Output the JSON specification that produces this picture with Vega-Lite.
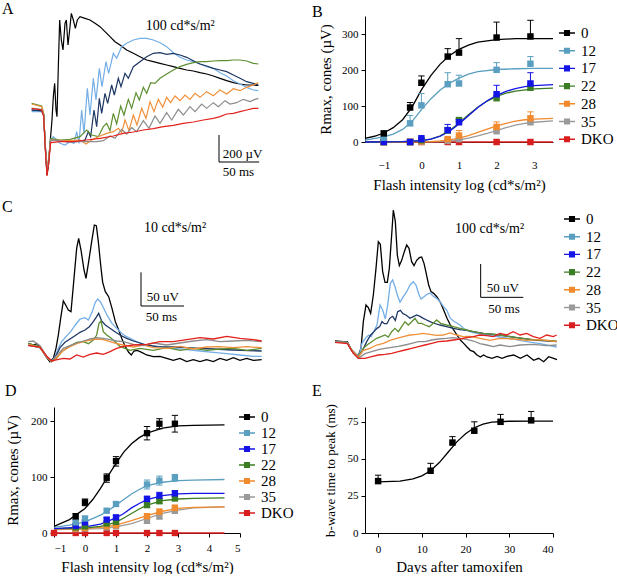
{
  "$schema": "https://vega.github.io/schema/vega-lite/v6.json",
  "background": "white",
  "padding": {"left": 2, "top": 0, "right": 0, "bottom": 0},
  "config": {
    "font": "Liberation Serif",
    "view": {"stroke": null},
    "axis": {"labelFont": "Liberation Serif", "titleFont": "Liberation Serif", "labelFontSize": 11, "titleFontSize": 15, "titleFontWeight": "normal", "labelColor": "black", "titleColor": "black", "domainColor": "black", "tickColor": "black", "grid": false, "tickSize": 4},
    "legend": {"labelFont": "Liberation Serif", "labelFontSize": 15, "labelColor": "black"},
    "title": {"font": "Liberation Serif", "fontSize": 16, "fontWeight": "normal", "color": "black", "anchor": "start", "frame": "group", "offset": 0, "baseline": "alphabetic"}
  },
  "columns": 2,
  "bounds": "flush",
  "spacing": {"row": 54, "column": 125},
  "resolve": {"scale": {"color": "independent", "stroke": "independent"}, "legend": {"color": "independent", "stroke": "independent"}},
  "datasets": {
    "traceA": [
      {"g":"0","t":38,"v":0},{"g":"0","t":50,"v":-5},{"g":"0","t":52.4,"v":-37.5},{"g":"0","t":54.4,"v":-275},{"g":"0","t":56.4,"v":-487.5},{"g":"0","t":58.4,"v":-400},{"g":"0","t":60.4,"v":-225},{"g":"0","t":62.4,"v":-75},{"g":"0","t":64,"v":100},{"g":"0","t":65.6,"v":200},{"g":"0","t":67.2,"v":0},{"g":"0","t":68.4,"v":-50},{"g":"0","t":70,"v":325},{"g":"0","t":71.6,"v":675},{"g":"0","t":73.6,"v":525},{"g":"0","t":75.6,"v":450},{"g":"0","t":78,"v":650},{"g":"0","t":79.6,"v":675},{"g":"0","t":81.6,"v":487.5},{"g":"0","t":83.6,"v":600},{"g":"0","t":85.6,"v":725},{"g":"0","t":88,"v":675},{"g":"0","t":90.4,"v":612.5},{"g":"0","t":92.8,"v":675},{"g":"0","t":96,"v":700},{"g":"0","t":102,"v":687.5},{"g":"0","t":108,"v":675},{"g":"0","t":114,"v":650},{"g":"0","t":120,"v":625},{"g":"0","t":126,"v":587.5},{"g":"0","t":132,"v":550},{"g":"0","t":138,"v":512.5},{"g":"0","t":144,"v":487.5},{"g":"0","t":152,"v":450},{"g":"0","t":160,"v":425},{"g":"0","t":168,"v":400},{"g":"0","t":176,"v":375},{"g":"0","t":184,"v":362.5},{"g":"0","t":192,"v":350},{"g":"0","t":200,"v":337.5},{"g":"0","t":208,"v":325},{"g":"0","t":216,"v":312.5},{"g":"0","t":224,"v":300},{"g":"0","t":232,"v":292.5},{"g":"0","t":240,"v":280},{"g":"0","t":248,"v":270},{"g":"0","t":256,"v":255},{"g":"0","t":264,"v":237.5},{"g":"0","t":272,"v":220},{"g":"0","t":280,"v":205},{"g":"0","t":288,"v":195},{"g":"0","t":296,"v":187.5},{"g":"0","t":304,"v":187.5},{"g":"0","t":310,"v":185},
      {"g":"12","t":38,"v":-12.5},{"g":"12","t":50,"v":-12.5},{"g":"12","t":52.4,"v":-37.5},{"g":"12","t":54.4,"v":-275},{"g":"12","t":56.4,"v":-475},{"g":"12","t":58.4,"v":-375},{"g":"12","t":60.8,"v":-225},{"g":"12","t":64,"v":-200},{"g":"12","t":68,"v":-225},{"g":"12","t":72,"v":-250},{"g":"12","t":78,"v":-262.5},{"g":"12","t":84,"v":-237.5},{"g":"12","t":88.8,"v":-250},{"g":"12","t":92,"v":-162.5},{"g":"12","t":94.8,"v":-250},{"g":"12","t":98,"v":0},{"g":"12","t":100.8,"v":-175},{"g":"12","t":104.8,"v":162.5},{"g":"12","t":108,"v":-37.5},{"g":"12","t":112,"v":237.5},{"g":"12","t":115.2,"v":75},{"g":"12","t":119.2,"v":312.5},{"g":"12","t":122.4,"v":175},{"g":"12","t":127.2,"v":362.5},{"g":"12","t":130.4,"v":275},{"g":"12","t":136,"v":425},{"g":"12","t":140,"v":387.5},{"g":"12","t":146,"v":475},{"g":"12","t":152,"v":500},{"g":"12","t":160,"v":525},{"g":"12","t":168,"v":537.5},{"g":"12","t":176,"v":537.5},{"g":"12","t":184,"v":525},{"g":"12","t":192,"v":505},{"g":"12","t":200,"v":475},{"g":"12","t":208,"v":430},{"g":"12","t":216,"v":395},{"g":"12","t":224,"v":375},{"g":"12","t":232,"v":362.5},{"g":"12","t":240,"v":345},{"g":"12","t":248,"v":325},{"g":"12","t":256,"v":312.5},{"g":"12","t":264,"v":280},{"g":"12","t":272,"v":255},{"g":"12","t":280,"v":220},{"g":"12","t":288,"v":195},{"g":"12","t":296,"v":170},{"g":"12","t":304,"v":150},{"g":"12","t":310,"v":145},
      {"g":"17","t":38,"v":0},{"g":"17","t":50,"v":-7.5},{"g":"17","t":52.4,"v":-37.5},{"g":"17","t":54.4,"v":-275},{"g":"17","t":56.4,"v":-475},{"g":"17","t":58.4,"v":-375},{"g":"17","t":60.8,"v":-225},{"g":"17","t":68,"v":-225},{"g":"17","t":80,"v":-237.5},{"g":"17","t":92,"v":-237.5},{"g":"17","t":102,"v":-225},{"g":"17","t":106,"v":-162.5},{"g":"17","t":108.8,"v":-200},{"g":"17","t":112.8,"v":0},{"g":"17","t":116,"v":-125},{"g":"17","t":119.2,"v":87.5},{"g":"17","t":122,"v":-25},{"g":"17","t":126,"v":125},{"g":"17","t":129.2,"v":50},{"g":"17","t":134,"v":187.5},{"g":"17","t":137.2,"v":112.5},{"g":"17","t":142,"v":237.5},{"g":"17","t":145.2,"v":175},{"g":"17","t":150,"v":275},{"g":"17","t":154,"v":237.5},{"g":"17","t":160,"v":325},{"g":"17","t":168,"v":362.5},{"g":"17","t":176,"v":400},{"g":"17","t":184,"v":425},{"g":"17","t":192,"v":430},{"g":"17","t":200,"v":417.5},{"g":"17","t":208,"v":425},{"g":"17","t":216,"v":412.5},{"g":"17","t":224,"v":395},{"g":"17","t":232,"v":370},{"g":"17","t":240,"v":345},{"g":"17","t":248,"v":330},{"g":"17","t":256,"v":312.5},{"g":"17","t":264,"v":300},{"g":"17","t":272,"v":287.5},{"g":"17","t":280,"v":262.5},{"g":"17","t":288,"v":237.5},{"g":"17","t":296,"v":212.5},{"g":"17","t":304,"v":200},{"g":"17","t":310,"v":187.5},
      {"g":"22","t":38,"v":50},{"g":"22","t":50,"v":30},{"g":"22","t":52.4,"v":-25},{"g":"22","t":54.4,"v":-275},{"g":"22","t":56.4,"v":-462.5},{"g":"22","t":58.4,"v":-362.5},{"g":"22","t":60.8,"v":-212.5},{"g":"22","t":72,"v":-225},{"g":"22","t":84,"v":-220},{"g":"22","t":96,"v":-200},{"g":"22","t":104,"v":-150},{"g":"22","t":110,"v":-187.5},{"g":"22","t":118,"v":-200},{"g":"22","t":124,"v":-125},{"g":"22","t":128,"v":-100},{"g":"22","t":132,"v":-155},{"g":"22","t":136,"v":-25},{"g":"22","t":140,"v":-105},{"g":"22","t":144.8,"v":30},{"g":"22","t":148.8,"v":-37.5},{"g":"22","t":154,"v":80},{"g":"22","t":158,"v":12.5},{"g":"22","t":163.2,"v":130},{"g":"22","t":167.2,"v":75},{"g":"22","t":172,"v":170},{"g":"22","t":176,"v":125},{"g":"22","t":180.8,"v":205},{"g":"22","t":186,"v":200},{"g":"22","t":192,"v":237.5},{"g":"22","t":200,"v":270},{"g":"22","t":208,"v":300},{"g":"22","t":216,"v":325},{"g":"22","t":224,"v":342.5},{"g":"22","t":232,"v":355},{"g":"22","t":240,"v":362.5},{"g":"22","t":248,"v":362.5},{"g":"22","t":256,"v":367.5},{"g":"22","t":264,"v":370},{"g":"22","t":272,"v":370},{"g":"22","t":280,"v":375},{"g":"22","t":288,"v":375},{"g":"22","t":296,"v":367.5},{"g":"22","t":304,"v":350},{"g":"22","t":310,"v":345},
      {"g":"28","t":38,"v":45},{"g":"28","t":50,"v":25},{"g":"28","t":52.4,"v":-25},{"g":"28","t":54.4,"v":-275},{"g":"28","t":56.4,"v":-462.5},{"g":"28","t":58.4,"v":-362.5},{"g":"28","t":60.8,"v":-225},{"g":"28","t":80,"v":-230},{"g":"28","t":96,"v":-225},{"g":"28","t":103.2,"v":-255},{"g":"28","t":110,"v":-225},{"g":"28","t":120,"v":-195},{"g":"28","t":128,"v":-175},{"g":"28","t":136,"v":-162.5},{"g":"28","t":142,"v":-137.5},{"g":"28","t":146,"v":-170},{"g":"28","t":150,"v":-75},{"g":"28","t":154.8,"v":-155},{"g":"28","t":160,"v":-37.5},{"g":"28","t":164.4,"v":-112.5},{"g":"28","t":170,"v":12.5},{"g":"28","t":175.2,"v":-62.5},{"g":"28","t":180,"v":62.5},{"g":"28","t":184.8,"v":-12.5},{"g":"28","t":190,"v":80},{"g":"28","t":195.2,"v":20},{"g":"28","t":200,"v":95},{"g":"28","t":204.8,"v":55},{"g":"28","t":210,"v":105},{"g":"28","t":216,"v":70},{"g":"28","t":222,"v":112.5},{"g":"28","t":228,"v":80},{"g":"28","t":234,"v":125},{"g":"28","t":240,"v":95},{"g":"28","t":248,"v":137.5},{"g":"28","t":256,"v":107.5},{"g":"28","t":264,"v":150},{"g":"28","t":272,"v":120},{"g":"28","t":280,"v":160},{"g":"28","t":288,"v":145},{"g":"28","t":296,"v":170},{"g":"28","t":304,"v":187.5},{"g":"28","t":310,"v":205},
      {"g":"35","t":38,"v":12.5},{"g":"35","t":50,"v":5},{"g":"35","t":52.4,"v":-37.5},{"g":"35","t":54.4,"v":-275},{"g":"35","t":56.4,"v":-470},{"g":"35","t":58.4,"v":-370},{"g":"35","t":60.8,"v":-225},{"g":"35","t":80,"v":-237.5},{"g":"35","t":100,"v":-237.5},{"g":"35","t":116,"v":-237.5},{"g":"35","t":124,"v":-230},{"g":"35","t":132,"v":-195},{"g":"35","t":138,"v":-212.5},{"g":"35","t":146,"v":-145},{"g":"35","t":152,"v":-180},{"g":"35","t":158,"v":-132.5},{"g":"35","t":164,"v":-162.5},{"g":"35","t":172,"v":-80},{"g":"35","t":178.8,"v":-137.5},{"g":"35","t":186,"v":-45},{"g":"35","t":192,"v":-100},{"g":"35","t":200,"v":-20},{"g":"35","t":206,"v":-75},{"g":"35","t":214,"v":5},{"g":"35","t":220,"v":-37.5},{"g":"35","t":228,"v":25},{"g":"35","t":234,"v":-12.5},{"g":"35","t":242,"v":45},{"g":"35","t":248,"v":12.5},{"g":"35","t":256,"v":55},{"g":"35","t":262,"v":25},{"g":"35","t":270,"v":70},{"g":"35","t":276,"v":45},{"g":"35","t":284,"v":55},{"g":"35","t":292,"v":80},{"g":"35","t":300,"v":62.5},{"g":"35","t":306,"v":80},{"g":"35","t":310,"v":87.5},
      {"g":"DKO","t":38,"v":12.5},{"g":"DKO","t":50,"v":0},{"g":"DKO","t":52.4,"v":-50},{"g":"DKO","t":54.4,"v":-300},{"g":"DKO","t":56.4,"v":-495},{"g":"DKO","t":58.4,"v":-400},{"g":"DKO","t":60.8,"v":-245},{"g":"DKO","t":72,"v":-237.5},{"g":"DKO","t":88,"v":-237.5},{"g":"DKO","t":104,"v":-225},{"g":"DKO","t":120,"v":-212.5},{"g":"DKO","t":136,"v":-195},{"g":"DKO","t":148,"v":-175},{"g":"DKO","t":160,"v":-165},{"g":"DKO","t":172,"v":-150},{"g":"DKO","t":184,"v":-140},{"g":"DKO","t":196,"v":-125},{"g":"DKO","t":208,"v":-115},{"g":"DKO","t":220,"v":-100},{"g":"DKO","t":232,"v":-90},{"g":"DKO","t":244,"v":-75},{"g":"DKO","t":256,"v":-62.5},{"g":"DKO","t":264,"v":-50},{"g":"DKO","t":272,"v":-30},{"g":"DKO","t":280,"v":-25},{"g":"DKO","t":288,"v":-12.5},{"g":"DKO","t":296,"v":0},{"g":"DKO","t":304,"v":12.5},{"g":"DKO","t":310,"v":12.5}
    ],
    "traceCl": [
      {"g":"0","t":34,"v":5},{"g":"0","t":40,"v":2.5},{"g":"0","t":44,"v":4.5},{"g":"0","t":48,"v":-1.5},{"g":"0","t":52,"v":-8.5},{"g":"0","t":56,"v":-16.5},{"g":"0","t":60,"v":-22.5},{"g":"0","t":64,"v":-17.5},{"g":"0","t":67.2,"v":-2.5},{"g":"0","t":70,"v":17.5},{"g":"0","t":72.8,"v":42.5},{"g":"0","t":76,"v":68.5},{"g":"0","t":78.8,"v":62.5},{"g":"0","t":82,"v":55},{"g":"0","t":85.2,"v":52.5},{"g":"0","t":88.8,"v":102.5},{"g":"0","t":92,"v":147.5},{"g":"0","t":94.4,"v":162.5},{"g":"0","t":97.2,"v":145},{"g":"0","t":100.8,"v":115},{"g":"0","t":103.2,"v":102.5},{"g":"0","t":106.4,"v":127.5},{"g":"0","t":110,"v":157.5},{"g":"0","t":113.2,"v":182.5},{"g":"0","t":115.6,"v":181.5},{"g":"0","t":118,"v":157.5},{"g":"0","t":120.8,"v":122.5},{"g":"0","t":123.2,"v":96.5},{"g":"0","t":126.4,"v":82.5},{"g":"0","t":130.4,"v":75},{"g":"0","t":134.4,"v":57.5},{"g":"0","t":138.4,"v":37.5},{"g":"0","t":142.4,"v":25},{"g":"0","t":146.4,"v":11.5},{"g":"0","t":150.4,"v":0},{"g":"0","t":154.4,"v":-8.5},{"g":"0","t":157.6,"v":-12.5},{"g":"0","t":160.8,"v":-6.5},{"g":"0","t":164.8,"v":-5.5},{"g":"0","t":170,"v":-8.5},{"g":"0","t":176,"v":-12.5},{"g":"0","t":184,"v":-15},{"g":"0","t":192,"v":-14.5},{"g":"0","t":200,"v":-17.5},{"g":"0","t":208,"v":-20.5},{"g":"0","t":216,"v":-17.5},{"g":"0","t":224,"v":-22.5},{"g":"0","t":232,"v":-19.5},{"g":"0","t":240,"v":-22.5},{"g":"0","t":248,"v":-19.5},{"g":"0","t":256,"v":-22.5},{"g":"0","t":264,"v":-17.5},{"g":"0","t":272,"v":-20.5},{"g":"0","t":280,"v":-16.5},{"g":"0","t":288,"v":-20.5},{"g":"0","t":296,"v":-17.5},{"g":"0","t":304,"v":-20.5},{"g":"0","t":314,"v":-19.5},
      {"g":"12","t":34,"v":3.5},{"g":"12","t":48,"v":-1.5},{"g":"12","t":56,"v":-15},{"g":"12","t":62,"v":-22.5},{"g":"12","t":66,"v":-15},{"g":"12","t":70,"v":-2.5},{"g":"12","t":74,"v":7.5},{"g":"12","t":79.2,"v":15},{"g":"12","t":84.8,"v":22.5},{"g":"12","t":90.4,"v":32.5},{"g":"12","t":96,"v":41.5},{"g":"12","t":102,"v":43.5},{"g":"12","t":106,"v":40},{"g":"12","t":110.4,"v":51.5},{"g":"12","t":114.4,"v":66.5},{"g":"12","t":117.2,"v":71.5},{"g":"12","t":120.4,"v":67.5},{"g":"12","t":124.4,"v":57.5},{"g":"12","t":128.8,"v":46.5},{"g":"12","t":134.4,"v":35},{"g":"12","t":140,"v":27.5},{"g":"12","t":146,"v":20},{"g":"12","t":152,"v":15},{"g":"12","t":158,"v":11.5},{"g":"12","t":164,"v":7.5},{"g":"12","t":172,"v":3.5},{"g":"12","t":180,"v":1.5},{"g":"12","t":192,"v":0},{"g":"12","t":208,"v":-2.5},{"g":"12","t":224,"v":-4.5},{"g":"12","t":240,"v":-6.5},{"g":"12","t":256,"v":-8.5},{"g":"12","t":272,"v":-10.5},{"g":"12","t":288,"v":-12.5},{"g":"12","t":304,"v":-14.5},{"g":"12","t":314,"v":-14.5},
      {"g":"17","t":34,"v":2.5},{"g":"17","t":48,"v":-1.5},{"g":"17","t":56,"v":-15},{"g":"17","t":62,"v":-21.5},{"g":"17","t":67.2,"v":-13.5},{"g":"17","t":72,"v":-1.5},{"g":"17","t":78,"v":6.5},{"g":"17","t":84,"v":11.5},{"g":"17","t":90,"v":16.5},{"g":"17","t":96,"v":21.5},{"g":"17","t":102,"v":25},{"g":"17","t":107.2,"v":30},{"g":"17","t":112,"v":37.5},{"g":"17","t":116,"v":45},{"g":"17","t":118.4,"v":50},{"g":"17","t":122,"v":38.5},{"g":"17","t":126.4,"v":32.5},{"g":"17","t":132,"v":27.5},{"g":"17","t":138,"v":22.5},{"g":"17","t":144,"v":17.5},{"g":"17","t":152,"v":12.5},{"g":"17","t":160,"v":8.5},{"g":"17","t":168,"v":5.5},{"g":"17","t":176,"v":2.5},{"g":"17","t":188,"v":0},{"g":"17","t":208,"v":-0.5},{"g":"17","t":224,"v":-1.5},{"g":"17","t":240,"v":-2.5},{"g":"17","t":256,"v":-3.5},{"g":"17","t":280,"v":-5},{"g":"17","t":314,"v":-6.5},
      {"g":"22","t":34,"v":5},{"g":"22","t":48,"v":-0.5},{"g":"22","t":56,"v":-15},{"g":"22","t":62,"v":-22.5},{"g":"22","t":68,"v":-17.5},{"g":"22","t":74,"v":-7.5},{"g":"22","t":80,"v":-2.5},{"g":"22","t":86,"v":2.5},{"g":"22","t":92,"v":6.5},{"g":"22","t":100,"v":7.5},{"g":"22","t":106,"v":4.5},{"g":"22","t":112,"v":10},{"g":"22","t":116,"v":17.5},{"g":"22","t":118.8,"v":35},{"g":"22","t":121.2,"v":38.5},{"g":"22","t":124,"v":22.5},{"g":"22","t":128,"v":17.5},{"g":"22","t":132.8,"v":13.5},{"g":"22","t":138,"v":7.5},{"g":"22","t":144,"v":0.5},{"g":"22","t":150,"v":-2.5},{"g":"22","t":156,"v":-5.5},{"g":"22","t":168,"v":-2.5},{"g":"22","t":184,"v":-5.5},{"g":"22","t":200,"v":-1.5},{"g":"22","t":216,"v":-5.5},{"g":"22","t":232,"v":-2.5},{"g":"22","t":248,"v":-5.5},{"g":"22","t":264,"v":-3.5},{"g":"22","t":280,"v":-2.5},{"g":"22","t":296,"v":-5.5},{"g":"22","t":314,"v":-2.5},
      {"g":"28","t":34,"v":3.5},{"g":"28","t":48,"v":-1.5},{"g":"28","t":56,"v":-15.5},{"g":"28","t":62,"v":-22.5},{"g":"28","t":68,"v":-16.5},{"g":"28","t":76,"v":-5.5},{"g":"28","t":84,"v":0},{"g":"28","t":92,"v":4.5},{"g":"28","t":100,"v":7.5},{"g":"28","t":108,"v":10},{"g":"28","t":116,"v":11.5},{"g":"28","t":124,"v":10.5},{"g":"28","t":132,"v":7.5},{"g":"28","t":140,"v":4.5},{"g":"28","t":148,"v":2.5},{"g":"28","t":160,"v":-0.5},{"g":"28","t":172,"v":2.5},{"g":"28","t":184,"v":-1.5},{"g":"28","t":200,"v":-2.5},{"g":"28","t":216,"v":0.5},{"g":"28","t":232,"v":-3.5},{"g":"28","t":248,"v":-0.5},{"g":"28","t":264,"v":0},{"g":"28","t":280,"v":-1.5},{"g":"28","t":296,"v":0},{"g":"28","t":314,"v":-1.5},
      {"g":"35","t":34,"v":7.5},{"g":"35","t":40,"v":8.5},{"g":"35","t":48,"v":1.5},{"g":"35","t":56,"v":-14.5},{"g":"35","t":62,"v":-21.5},{"g":"35","t":68,"v":-13.5},{"g":"35","t":76,"v":-2.5},{"g":"35","t":84,"v":1.5},{"g":"35","t":92,"v":5.5},{"g":"35","t":100,"v":8.5},{"g":"35","t":108,"v":11.5},{"g":"35","t":116,"v":13.5},{"g":"35","t":124,"v":12.5},{"g":"35","t":132,"v":10.5},{"g":"35","t":140,"v":8.5},{"g":"35","t":148,"v":7.5},{"g":"35","t":160,"v":3.5},{"g":"35","t":172,"v":1.5},{"g":"35","t":184,"v":5.5},{"g":"35","t":200,"v":2.5},{"g":"35","t":216,"v":5.5},{"g":"35","t":232,"v":8.5},{"g":"35","t":248,"v":10.5},{"g":"35","t":264,"v":7.5},{"g":"35","t":280,"v":8.5},{"g":"35","t":296,"v":9.5},{"g":"35","t":314,"v":7.5},
      {"g":"DKO","t":34,"v":1.5},{"g":"DKO","t":48,"v":-0.5},{"g":"DKO","t":56,"v":-14.5},{"g":"DKO","t":62,"v":-21.5},{"g":"DKO","t":68.8,"v":-19.5},{"g":"DKO","t":76,"v":-17.5},{"g":"DKO","t":84,"v":-18.5},{"g":"DKO","t":92,"v":-12.5},{"g":"DKO","t":100,"v":-15.5},{"g":"DKO","t":108,"v":-11.5},{"g":"DKO","t":116,"v":-9.5},{"g":"DKO","t":124,"v":-11.5},{"g":"DKO","t":132,"v":-7.5},{"g":"DKO","t":140,"v":-2.5},{"g":"DKO","t":148,"v":0.5},{"g":"DKO","t":160,"v":2.5},{"g":"DKO","t":176,"v":3.5},{"g":"DKO","t":192,"v":7.5},{"g":"DKO","t":208,"v":7.5},{"g":"DKO","t":224,"v":10.5},{"g":"DKO","t":240,"v":13.5},{"g":"DKO","t":256,"v":11.5},{"g":"DKO","t":272,"v":15.5},{"g":"DKO","t":288,"v":12.5},{"g":"DKO","t":304,"v":10.5},{"g":"DKO","t":314,"v":8.5}
    ],
    "traceCr": [
      {"g":"0","t":42,"v":1},{"g":"0","t":52,"v":0},{"g":"0","t":56.8,"v":0},{"g":"0","t":60,"v":-9},{"g":"0","t":64,"v":-17},{"g":"0","t":70,"v":-21},{"g":"0","t":73.2,"v":-10},{"g":"0","t":76,"v":30},{"g":"0","t":79.2,"v":55},{"g":"0","t":82,"v":51},{"g":"0","t":84.8,"v":42.5},{"g":"0","t":88,"v":70},{"g":"0","t":91.2,"v":110},{"g":"0","t":94,"v":150},{"g":"0","t":96.4,"v":146},{"g":"0","t":99.2,"v":105},{"g":"0","t":102,"v":89},{"g":"0","t":104.8,"v":89},{"g":"0","t":107.2,"v":110},{"g":"0","t":110,"v":160},{"g":"0","t":112,"v":197.5},{"g":"0","t":114.4,"v":180},{"g":"0","t":116.8,"v":130},{"g":"0","t":119.2,"v":114},{"g":"0","t":122,"v":122},{"g":"0","t":125.2,"v":135},{"g":"0","t":128,"v":145},{"g":"0","t":130.8,"v":140},{"g":"0","t":134,"v":120},{"g":"0","t":136.8,"v":114},{"g":"0","t":140,"v":122},{"g":"0","t":143.2,"v":126},{"g":"0","t":146,"v":127},{"g":"0","t":148.8,"v":117.5},{"g":"0","t":151.2,"v":104},{"g":"0","t":154.4,"v":85},{"g":"0","t":157.2,"v":75},{"g":"0","t":160.4,"v":72.5},{"g":"0","t":164.4,"v":67},{"g":"0","t":168.4,"v":59},{"g":"0","t":172.4,"v":47.5},{"g":"0","t":176.4,"v":35},{"g":"0","t":180.4,"v":25},{"g":"0","t":184.4,"v":17.5},{"g":"0","t":188.4,"v":10},{"g":"0","t":192.4,"v":2.5},{"g":"0","t":196.4,"v":-2.5},{"g":"0","t":200.4,"v":-8},{"g":"0","t":204.4,"v":-13},{"g":"0","t":208.4,"v":-15},{"g":"0","t":212.4,"v":-20},{"g":"0","t":216.4,"v":-23},{"g":"0","t":220.4,"v":-20},{"g":"0","t":224.4,"v":-23},{"g":"0","t":230.4,"v":-25},{"g":"0","t":236.4,"v":-22},{"g":"0","t":242.4,"v":-25},{"g":"0","t":248.4,"v":-22},{"g":"0","t":256.4,"v":-20},{"g":"0","t":264.4,"v":-25},{"g":"0","t":272.4,"v":-20},{"g":"0","t":280.4,"v":-28},{"g":"0","t":286.4,"v":-25},{"g":"0","t":292.4,"v":-30},{"g":"0","t":298.4,"v":-22.5},{"g":"0","t":304.4,"v":-25},{"g":"0","t":308.4,"v":-27},
      {"g":"12","t":42,"v":0},{"g":"12","t":56.8,"v":-1},{"g":"12","t":62,"v":-12.5},{"g":"12","t":68,"v":-20},{"g":"12","t":71.2,"v":-20},{"g":"12","t":74.4,"v":-2.5},{"g":"12","t":78.4,"v":5},{"g":"12","t":82.4,"v":10},{"g":"12","t":85.2,"v":7.5},{"g":"12","t":88.4,"v":15},{"g":"12","t":92.4,"v":25},{"g":"12","t":96,"v":55},{"g":"12","t":99.2,"v":47.5},{"g":"12","t":102.4,"v":34},{"g":"12","t":105.2,"v":55},{"g":"12","t":108.4,"v":87.5},{"g":"12","t":111.2,"v":92.5},{"g":"12","t":114,"v":82.5},{"g":"12","t":116.8,"v":70},{"g":"12","t":120,"v":59},{"g":"12","t":124,"v":67.5},{"g":"12","t":128,"v":75},{"g":"12","t":132,"v":85},{"g":"12","t":136,"v":90},{"g":"12","t":139.2,"v":85},{"g":"12","t":142.4,"v":72},{"g":"12","t":145.2,"v":64},{"g":"12","t":148.8,"v":67.5},{"g":"12","t":152.4,"v":71},{"g":"12","t":156,"v":73},{"g":"12","t":160,"v":68},{"g":"12","t":164,"v":65},{"g":"12","t":168,"v":60},{"g":"12","t":172,"v":53},{"g":"12","t":176,"v":47.5},{"g":"12","t":180,"v":36},{"g":"12","t":184,"v":31},{"g":"12","t":188,"v":28},{"g":"12","t":192,"v":25},{"g":"12","t":196,"v":20},{"g":"12","t":200,"v":17.5},{"g":"12","t":204,"v":15},{"g":"12","t":212,"v":12.5},{"g":"12","t":224,"v":10},{"g":"12","t":240,"v":7},{"g":"12","t":256,"v":4},{"g":"12","t":272,"v":0},{"g":"12","t":288,"v":-3},{"g":"12","t":308,"v":-8},
      {"g":"17","t":42,"v":0},{"g":"17","t":56.8,"v":-1},{"g":"17","t":62,"v":-12.5},{"g":"17","t":70,"v":-22.5},{"g":"17","t":74.4,"v":-15},{"g":"17","t":80,"v":0},{"g":"17","t":84.8,"v":10},{"g":"17","t":88.8,"v":15},{"g":"17","t":92.4,"v":20},{"g":"17","t":95.6,"v":22.5},{"g":"17","t":98.4,"v":30},{"g":"17","t":101.2,"v":27},{"g":"17","t":104.4,"v":27},{"g":"17","t":107.6,"v":35},{"g":"17","t":111.2,"v":38},{"g":"17","t":114.4,"v":32},{"g":"17","t":117.2,"v":45},{"g":"17","t":120.4,"v":47},{"g":"17","t":123.6,"v":42},{"g":"17","t":127.2,"v":40},{"g":"17","t":132,"v":35},{"g":"17","t":136,"v":37.5},{"g":"17","t":140,"v":40},{"g":"17","t":144,"v":38},{"g":"17","t":148,"v":35},{"g":"17","t":152,"v":32.5},{"g":"17","t":156,"v":30},{"g":"17","t":160,"v":28},{"g":"17","t":168,"v":25},{"g":"17","t":176,"v":22.5},{"g":"17","t":184,"v":20},{"g":"17","t":192,"v":18},{"g":"17","t":200,"v":17},{"g":"17","t":208,"v":15},{"g":"17","t":220,"v":12.5},{"g":"17","t":240,"v":10},{"g":"17","t":260,"v":6},{"g":"17","t":280,"v":2.5},{"g":"17","t":308,"v":0},
      {"g":"22","t":42,"v":0},{"g":"22","t":56.8,"v":-1},{"g":"22","t":62,"v":-12.5},{"g":"22","t":70,"v":-23},{"g":"22","t":76,"v":-10},{"g":"22","t":80.4,"v":-5},{"g":"22","t":86,"v":0},{"g":"22","t":92,"v":5},{"g":"22","t":98,"v":8},{"g":"22","t":102,"v":10},{"g":"22","t":106,"v":7},{"g":"22","t":110,"v":15},{"g":"22","t":114,"v":20},{"g":"22","t":118,"v":15},{"g":"22","t":122,"v":22.5},{"g":"22","t":126,"v":30},{"g":"22","t":130,"v":25},{"g":"22","t":134,"v":30},{"g":"22","t":138,"v":35},{"g":"22","t":142,"v":27.5},{"g":"22","t":146,"v":27.5},{"g":"22","t":150,"v":25},{"g":"22","t":155.2,"v":22.5},{"g":"22","t":160,"v":27.5},{"g":"22","t":164,"v":32.5},{"g":"22","t":168.8,"v":27.5},{"g":"22","t":176,"v":25},{"g":"22","t":184,"v":22.5},{"g":"22","t":192,"v":20},{"g":"22","t":200,"v":17.5},{"g":"22","t":208,"v":15},{"g":"22","t":220,"v":12.5},{"g":"22","t":240,"v":10},{"g":"22","t":260,"v":6},{"g":"22","t":280,"v":3},{"g":"22","t":296,"v":2},{"g":"22","t":308,"v":1},
      {"g":"28","t":42,"v":-1},{"g":"28","t":56.8,"v":-1.5},{"g":"28","t":62,"v":-13},{"g":"28","t":70,"v":-23},{"g":"28","t":76,"v":-13},{"g":"28","t":84,"v":-10},{"g":"28","t":92,"v":-5},{"g":"28","t":100,"v":-2.5},{"g":"28","t":108,"v":2},{"g":"28","t":116,"v":5},{"g":"28","t":124,"v":7.5},{"g":"28","t":132,"v":10},{"g":"28","t":140,"v":11},{"g":"28","t":148,"v":12.5},{"g":"28","t":156,"v":11},{"g":"28","t":164,"v":9.5},{"g":"28","t":172,"v":10},{"g":"28","t":180,"v":13},{"g":"28","t":188,"v":10},{"g":"28","t":196,"v":7.5},{"g":"28","t":204,"v":8},{"g":"28","t":216,"v":5},{"g":"28","t":228,"v":2},{"g":"28","t":240,"v":5},{"g":"28","t":256,"v":4},{"g":"28","t":272,"v":2},{"g":"28","t":288,"v":3},{"g":"28","t":308,"v":0},
      {"g":"35","t":42,"v":0},{"g":"35","t":56.8,"v":-1},{"g":"35","t":62,"v":-14},{"g":"35","t":70,"v":-25},{"g":"35","t":78,"v":-18},{"g":"35","t":86,"v":-15},{"g":"35","t":94,"v":-12},{"g":"35","t":102,"v":-10},{"g":"35","t":110,"v":-8.5},{"g":"35","t":118,"v":-7},{"g":"35","t":126,"v":-5},{"g":"35","t":134,"v":-2.5},{"g":"35","t":142,"v":0},{"g":"35","t":150,"v":0},{"g":"35","t":158,"v":2.5},{"g":"35","t":166,"v":4},{"g":"35","t":176,"v":5},{"g":"35","t":184,"v":6},{"g":"35","t":192,"v":5},{"g":"35","t":200,"v":3.5},{"g":"35","t":208,"v":1},{"g":"35","t":216,"v":-3},{"g":"35","t":224,"v":-5},{"g":"35","t":232,"v":-7.5},{"g":"35","t":240,"v":-5},{"g":"35","t":252,"v":-7.5},{"g":"35","t":264,"v":-5},{"g":"35","t":280,"v":-4},{"g":"35","t":296,"v":-6},{"g":"35","t":308,"v":-5},
      {"g":"DKO","t":42,"v":-1},{"g":"DKO","t":56.8,"v":-3},{"g":"DKO","t":64,"v":-17.5},{"g":"DKO","t":70,"v":-25},{"g":"DKO","t":78,"v":-25},{"g":"DKO","t":86,"v":-22.5},{"g":"DKO","t":94,"v":-20},{"g":"DKO","t":102,"v":-19},{"g":"DKO","t":110,"v":-17.5},{"g":"DKO","t":118,"v":-15},{"g":"DKO","t":126,"v":-12.5},{"g":"DKO","t":134,"v":-10},{"g":"DKO","t":142,"v":-7.5},{"g":"DKO","t":150,"v":-5},{"g":"DKO","t":158,"v":-2.5},{"g":"DKO","t":166,"v":0},{"g":"DKO","t":176,"v":1},{"g":"DKO","t":184,"v":2.5},{"g":"DKO","t":192,"v":4},{"g":"DKO","t":200,"v":6},{"g":"DKO","t":208,"v":7.5},{"g":"DKO","t":216,"v":10},{"g":"DKO","t":224,"v":9},{"g":"DKO","t":232,"v":7.5},{"g":"DKO","t":240,"v":12.5},{"g":"DKO","t":248,"v":10},{"g":"DKO","t":256,"v":15},{"g":"DKO","t":264,"v":10},{"g":"DKO","t":272,"v":12.5},{"g":"DKO","t":280,"v":7.5},{"g":"DKO","t":288,"v":5},{"g":"DKO","t":296,"v":10},{"g":"DKO","t":304,"v":7.5},{"g":"DKO","t":308,"v":10}
    ],
    "fitB": [
      {"g":"DKO","x":-1.5,"y":0},{"g":"DKO","x":3.5,"y":0},
      {"g":"35","x":-1.5,"y":0},{"g":"35","x":0.5,"y":1},{"g":"35","x":0.75,"y":3},{"g":"35","x":1,"y":6},{"g":"35","x":1.25,"y":11},{"g":"35","x":1.5,"y":17},{"g":"35","x":1.75,"y":24},{"g":"35","x":2,"y":32},{"g":"35","x":2.25,"y":40},{"g":"35","x":2.5,"y":47},{"g":"35","x":2.75,"y":52},{"g":"35","x":3,"y":55},{"g":"35","x":3.5,"y":59},
      {"g":"28","x":-1.5,"y":0},{"g":"28","x":0.25,"y":1},{"g":"28","x":0.5,"y":3},{"g":"28","x":0.75,"y":6},{"g":"28","x":1,"y":11},{"g":"28","x":1.25,"y":18},{"g":"28","x":1.5,"y":27},{"g":"28","x":1.75,"y":36},{"g":"28","x":2,"y":45},{"g":"28","x":2.25,"y":52},{"g":"28","x":2.5,"y":58},{"g":"28","x":2.75,"y":62},{"g":"28","x":3,"y":64},{"g":"28","x":3.5,"y":66},
      {"g":"22","x":-1.5,"y":0},{"g":"22","x":-0.5,"y":1},{"g":"22","x":0,"y":4},{"g":"22","x":0.25,"y":8},{"g":"22","x":0.5,"y":17},{"g":"22","x":0.75,"y":32},{"g":"22","x":1,"y":53},{"g":"22","x":1.25,"y":76},{"g":"22","x":1.5,"y":97},{"g":"22","x":1.75,"y":114},{"g":"22","x":2,"y":127},{"g":"22","x":2.25,"y":136},{"g":"22","x":2.5,"y":142},{"g":"22","x":3,"y":148},{"g":"22","x":3.5,"y":150},
      {"g":"17","x":-1.5,"y":0},{"g":"17","x":-0.5,"y":1},{"g":"17","x":0,"y":4},{"g":"17","x":0.25,"y":8},{"g":"17","x":0.5,"y":16},{"g":"17","x":0.75,"y":30},{"g":"17","x":1,"y":50},{"g":"17","x":1.25,"y":73},{"g":"17","x":1.5,"y":96},{"g":"17","x":1.75,"y":115},{"g":"17","x":2,"y":130},{"g":"17","x":2.25,"y":141},{"g":"17","x":2.5,"y":149},{"g":"17","x":2.75,"y":154},{"g":"17","x":3,"y":157},{"g":"17","x":3.5,"y":160},
      {"g":"12","x":-1.5,"y":5},{"g":"12","x":-1,"y":14},{"g":"12","x":-0.75,"y":22},{"g":"12","x":-0.5,"y":35},{"g":"12","x":-0.25,"y":57},{"g":"12","x":0,"y":90},{"g":"12","x":0.25,"y":120},{"g":"12","x":0.5,"y":145},{"g":"12","x":0.75,"y":164},{"g":"12","x":1,"y":178},{"g":"12","x":1.25,"y":189},{"g":"12","x":1.5,"y":196},{"g":"12","x":2,"y":202},{"g":"12","x":2.5,"y":204},{"g":"12","x":3,"y":205},{"g":"12","x":3.5,"y":205},
      {"g":"0","x":-1.5,"y":10},{"g":"0","x":-1.25,"y":16},{"g":"0","x":-1,"y":25},{"g":"0","x":-0.75,"y":40},{"g":"0","x":-0.5,"y":62},{"g":"0","x":-0.25,"y":97},{"g":"0","x":0,"y":145},{"g":"0","x":0.25,"y":185},{"g":"0","x":0.5,"y":217},{"g":"0","x":0.75,"y":241},{"g":"0","x":1,"y":258},{"g":"0","x":1.25,"y":270},{"g":"0","x":1.5,"y":278},{"g":"0","x":2,"y":285},{"g":"0","x":2.5,"y":288},{"g":"0","x":3,"y":288},{"g":"0","x":3.5,"y":288}
    ],
    "ptsB": [
      {"g":"DKO","x":-1,"y":0,"hi":0},{"g":"DKO","x":-0.3,"y":0,"hi":0},{"g":"DKO","x":0,"y":0,"hi":0},{"g":"DKO","x":0.7,"y":0,"hi":0},{"g":"DKO","x":1,"y":0,"hi":0},{"g":"DKO","x":2,"y":0,"hi":0},{"g":"DKO","x":2.9,"y":0,"hi":0},
      {"g":"35","x":-1,"y":0,"hi":1},{"g":"35","x":-0.3,"y":0,"hi":1},{"g":"35","x":0,"y":1,"hi":3},{"g":"35","x":0.7,"y":3,"hi":6},{"g":"35","x":1,"y":8,"hi":12},{"g":"35","x":2,"y":30,"hi":35},{"g":"35","x":2.9,"y":55,"hi":60},
      {"g":"28","x":-1,"y":0,"hi":2},{"g":"28","x":-0.3,"y":0,"hi":2},{"g":"28","x":0,"y":2,"hi":5},{"g":"28","x":0.7,"y":8,"hi":12},{"g":"28","x":1,"y":18,"hi":32},{"g":"28","x":2,"y":42,"hi":56},{"g":"28","x":2.9,"y":66,"hi":84},
      {"g":"22","x":-1,"y":0,"hi":2},{"g":"22","x":-0.3,"y":0,"hi":2},{"g":"22","x":0,"y":5,"hi":10},{"g":"22","x":0.7,"y":32,"hi":40},{"g":"22","x":1,"y":61,"hi":66},{"g":"22","x":2,"y":122,"hi":130},{"g":"22","x":2.9,"y":151,"hi":160},
      {"g":"17","x":-1,"y":0,"hi":3},{"g":"17","x":-0.3,"y":0,"hi":3},{"g":"17","x":0,"y":8,"hi":18},{"g":"17","x":0.7,"y":33,"hi":49},{"g":"17","x":1,"y":55,"hi":62},{"g":"17","x":2,"y":133,"hi":158},{"g":"17","x":2.9,"y":163,"hi":193},
      {"g":"12","x":-1,"y":12,"hi":20},{"g":"12","x":-0.3,"y":52,"hi":74},{"g":"12","x":0,"y":102,"hi":135},{"g":"12","x":0.7,"y":161,"hi":193},{"g":"12","x":1,"y":163,"hi":186},{"g":"12","x":2,"y":201,"hi":221},{"g":"12","x":2.9,"y":218,"hi":238},
      {"g":"0","x":-1,"y":24,"hi":30},{"g":"0","x":-0.3,"y":96,"hi":110},{"g":"0","x":0,"y":165,"hi":184},{"g":"0","x":0.7,"y":238,"hi":260},{"g":"0","x":1,"y":249,"hi":288},{"g":"0","x":2,"y":291,"hi":334},{"g":"0","x":2.9,"y":294,"hi":339}
    ],
    "fitD": [
      {"g":"DKO","x":-1,"y":0},{"g":"DKO","x":4.5,"y":0},
      {"g":"35","x":-1,"y":6},{"g":"35","x":0,"y":7},{"g":"35","x":0.5,"y":8},{"g":"35","x":1,"y":11},{"g":"35","x":1.5,"y":17},{"g":"35","x":2,"y":26},{"g":"35","x":2.5,"y":35},{"g":"35","x":3,"y":41},{"g":"35","x":3.5,"y":45},{"g":"35","x":4.5,"y":47},
      {"g":"28","x":-1,"y":7},{"g":"28","x":0,"y":8},{"g":"28","x":0.5,"y":10},{"g":"28","x":1,"y":14},{"g":"28","x":1.5,"y":22},{"g":"28","x":2,"y":31},{"g":"28","x":2.5,"y":39},{"g":"28","x":3,"y":44},{"g":"28","x":3.5,"y":46},{"g":"28","x":4.5,"y":47},
      {"g":"22","x":-1,"y":8},{"g":"22","x":0,"y":9},{"g":"22","x":0.5,"y":12},{"g":"22","x":1,"y":19},{"g":"22","x":1.25,"y":27},{"g":"22","x":1.5,"y":35},{"g":"22","x":1.75,"y":43},{"g":"22","x":2,"y":50},{"g":"22","x":2.5,"y":58},{"g":"22","x":3,"y":61},{"g":"22","x":3.5,"y":62},{"g":"22","x":4.5,"y":63},
      {"g":"17","x":-1,"y":8},{"g":"17","x":0,"y":11},{"g":"17","x":0.5,"y":16},{"g":"17","x":1,"y":27},{"g":"17","x":1.25,"y":35},{"g":"17","x":1.5,"y":45},{"g":"17","x":1.75,"y":53},{"g":"17","x":2,"y":60},{"g":"17","x":2.5,"y":67},{"g":"17","x":3,"y":70},{"g":"17","x":3.5,"y":71},{"g":"17","x":4.5,"y":71},
      {"g":"12","x":-1,"y":10},{"g":"12","x":-0.5,"y":14},{"g":"12","x":0,"y":20},{"g":"12","x":0.5,"y":32},{"g":"12","x":0.75,"y":40},{"g":"12","x":1,"y":50},{"g":"12","x":1.25,"y":60},{"g":"12","x":1.5,"y":70},{"g":"12","x":1.75,"y":78},{"g":"12","x":2,"y":85},{"g":"12","x":2.5,"y":91},{"g":"12","x":3,"y":94},{"g":"12","x":3.5,"y":95},{"g":"12","x":4.5,"y":96},
      {"g":"0","x":-1,"y":12},{"g":"0","x":-0.5,"y":24},{"g":"0","x":0,"y":44},{"g":"0","x":0.25,"y":60},{"g":"0","x":0.5,"y":80},{"g":"0","x":0.75,"y":103},{"g":"0","x":1,"y":125},{"g":"0","x":1.25,"y":145},{"g":"0","x":1.5,"y":160},{"g":"0","x":1.75,"y":171},{"g":"0","x":2,"y":179},{"g":"0","x":2.5,"y":188},{"g":"0","x":3,"y":192},{"g":"0","x":3.5,"y":193},{"g":"0","x":4.5,"y":194}
    ],
    "ptsD": [
      {"g":"DKO","x":-1,"y":0,"lo":0,"hi":0},{"g":"DKO","x":-0.3,"y":0,"lo":0,"hi":0},{"g":"DKO","x":0,"y":0,"lo":0,"hi":0},{"g":"DKO","x":0.7,"y":0,"lo":0,"hi":0},{"g":"DKO","x":1,"y":0,"lo":0,"hi":0},{"g":"DKO","x":2,"y":0,"lo":0,"hi":0},{"g":"DKO","x":2.4,"y":0,"lo":0,"hi":0},{"g":"DKO","x":2.9,"y":0,"lo":0,"hi":0},
      {"g":"35","x":-0.3,"y":7,"lo":6,"hi":8},{"g":"35","x":0,"y":8,"lo":7,"hi":9},{"g":"35","x":0.7,"y":10,"lo":9,"hi":11},{"g":"35","x":1,"y":12,"lo":10,"hi":14},{"g":"35","x":2,"y":22,"lo":17,"hi":27},{"g":"35","x":2.4,"y":30,"lo":25,"hi":35},{"g":"35","x":2.9,"y":40,"lo":35,"hi":45},
      {"g":"28","x":-0.3,"y":8,"lo":7,"hi":9},{"g":"28","x":0,"y":9,"lo":8,"hi":10},{"g":"28","x":0.7,"y":12,"lo":10,"hi":14},{"g":"28","x":1,"y":14,"lo":12,"hi":16},{"g":"28","x":2,"y":30,"lo":25,"hi":35},{"g":"28","x":2.4,"y":38,"lo":33,"hi":43},{"g":"28","x":2.9,"y":45,"lo":40,"hi":50},
      {"g":"22","x":-0.3,"y":10,"lo":8,"hi":12},{"g":"22","x":0,"y":12,"lo":10,"hi":14},{"g":"22","x":0.7,"y":17,"lo":15,"hi":19},{"g":"22","x":1,"y":20,"lo":17,"hi":23},{"g":"22","x":2,"y":50,"lo":46,"hi":54},{"g":"22","x":2.4,"y":57,"lo":53,"hi":61},{"g":"22","x":2.9,"y":62,"lo":58,"hi":66},
      {"g":"17","x":-0.3,"y":13,"lo":10,"hi":16},{"g":"17","x":0,"y":19,"lo":16,"hi":22},{"g":"17","x":0.7,"y":24,"lo":21,"hi":27},{"g":"17","x":1,"y":28,"lo":24,"hi":32},{"g":"17","x":2,"y":61,"lo":56,"hi":66},{"g":"17","x":2.4,"y":67,"lo":61,"hi":73},{"g":"17","x":2.9,"y":71,"lo":66,"hi":76},
      {"g":"12","x":-0.3,"y":19,"lo":16,"hi":22},{"g":"12","x":0,"y":26,"lo":22,"hi":30},{"g":"12","x":0.7,"y":40,"lo":37,"hi":43},{"g":"12","x":1,"y":52,"lo":48,"hi":56},{"g":"12","x":2,"y":87,"lo":79,"hi":95},{"g":"12","x":2.4,"y":94,"lo":86,"hi":102},{"g":"12","x":2.9,"y":99,"lo":93,"hi":105},
      {"g":"0","x":-0.3,"y":30,"lo":24,"hi":35},{"g":"0","x":0,"y":55,"lo":49,"hi":61},{"g":"0","x":0.7,"y":99,"lo":91,"hi":106},{"g":"0","x":1,"y":129,"lo":120,"hi":137},{"g":"0","x":2,"y":179,"lo":167,"hi":191},{"g":"0","x":2.4,"y":196,"lo":187,"hi":205},{"g":"0","x":2.9,"y":196,"lo":181,"hi":211}
    ],
    "fitE": [
      {"x":0,"y":34.5},{"x":5,"y":35},{"x":8,"y":36.5},{"x":10,"y":38.5},{"x":12,"y":42},{"x":14,"y":47.5},{"x":16,"y":54.5},{"x":18,"y":61.5},{"x":20,"y":67},{"x":22,"y":71},{"x":24,"y":73.5},{"x":26,"y":74.8},{"x":30,"y":75.4},{"x":35,"y":75.5},{"x":40,"y":75.5}
    ],
    "ptsE": [
      {"x":0,"y":35,"hi":39},{"x":12,"y":42,"hi":47},{"x":17,"y":61,"hi":65},{"x":22,"y":69,"hi":75},{"x":28,"y":75,"hi":80},{"x":35,"y":76,"hi":82}
    ],
    "groups": [{"g": "0"}, {"g": "12"}, {"g": "17"}, {"g": "22"}, {"g": "28"}, {"g": "35"}, {"g": "DKO"}]
  },
  "concat": [
    {
      "width": 186, "height": 126,
      "title": {"text": "A", "dx": -52, "dy": 10},
      "encoding": {
        "x": {"field": "t", "type": "quantitative", "scale": {"domain": [64.8, 288], "nice": false, "zero": false}, "axis": null},
        "y": {"field": "v", "type": "quantitative", "scale": {"domain": [-240, 705], "nice": false, "zero": false}, "axis": null}
      },
      "layer": [
        {"data": {"name": "traceA"}, "mark": {"type": "line", "strokeWidth": 1.2},
         "encoding": {"stroke": {"field": "g", "type": "nominal", "scale": {"domain": ["0","12","17","22","28","35","DKO"], "range": ["#000000","#74aee6","#1f3864","#5e8f32","#f0913a","#8c8c8c","#e3211c"]}, "legend": null}}},
        {"data": {"values": [{"t": 262.8, "t2": 262.8, "v": -187.5, "v2": -390}, {"t": 262.8, "t2": 311, "v": -390, "v2": -390}]},
         "mark": {"type": "rule", "color": "black", "strokeWidth": 1},
         "encoding": {"x2": {"field": "t2"}, "y2": {"field": "v2"}}},
        {"data": {"values": [{"t": 267.2, "v": -330, "label": "200 µV"}, {"t": 267.2, "v": -467, "label": "50 ms"}]},
         "mark": {"type": "text", "align": "left", "baseline": "middle", "font": "Liberation Serif", "fontSize": 13, "color": "black"},
         "encoding": {"text": {"field": "label"}}},
        {"data": {"values": [{"t": 174.8, "v": 630, "label": "100 cd*s/m²"}]},
         "mark": {"type": "text", "align": "left", "baseline": "middle", "font": "Liberation Serif", "fontSize": 14, "color": "black"},
         "encoding": {"text": {"field": "label"}}}
      ]
    },
    {
      "width": 188, "height": 126,
      "title": {"text": "B", "dx": -53, "dy": 8},
      "encoding": {
        "x": {"field": "x", "type": "quantitative", "scale": {"domain": [-1.5, 3.5], "nice": false, "zero": false},
              "axis": {"values": [-1, 0, 1, 2, 3], "ticks": false, "labelPadding": 17, "titlePadding": 7, "title": "Flash intensity log (cd*s/m²)"}}
      },
      "layer": [
        {"data": {"name": "fitB"}, "mark": {"type": "line", "strokeWidth": 1.3},
         "encoding": {
           "y": {"field": "y", "type": "quantitative", "scale": {"domain": [0, 351], "nice": false}, "axis": {"values": [0, 100, 200, 300], "labelPadding": 3, "titlePadding": 8}, "title": "Rmax, cones (µV)"},
           "stroke": {"field": "g", "type": "nominal", "scale": {"domain": ["DKO","35","28","22","17","12","0"], "range": ["#d81e1e","#9a9a9a","#f28a2e","#3b7d23","#1414e6","#5b9fc0","#000000"]}, "legend": null}}},
        {"data": {"name": "ptsB"}, "mark": {"type": "rule", "strokeWidth": 1},
         "encoding": {"y": {"field": "y", "type": "quantitative", "title": "Rmax, cones (µV)"}, "y2": {"field": "hi"}, "stroke": {"field": "g", "type": "nominal", "legend": null}}},
        {"data": {"name": "ptsB"}, "mark": {"type": "point", "shape": "M-1,0H1", "filled": false, "size": 40, "strokeWidth": 1, "opacity": 1},
         "encoding": {"y": {"field": "hi", "type": "quantitative", "title": "Rmax, cones (µV)"}, "stroke": {"field": "g", "type": "nominal", "legend": null}}},
        {"data": {"name": "ptsB"}, "mark": {"type": "point", "shape": "square", "filled": true, "size": 42, "opacity": 1},
         "encoding": {
           "y": {"field": "y", "type": "quantitative", "title": "Rmax, cones (µV)"},
           "color": {"field": "g", "type": "nominal", "scale": {"domain": ["0","12","17","22","28","35","DKO"], "range": ["#000000","#5b9fc0","#1414e6","#3b7d23","#f28a2e","#9a9a9a","#d81e1e"]},
             "legend": {"orient": "right", "offset": -6, "padding": 9, "title": null, "symbolType": "M-1,-0.09H1V0.09H-1Z M-0.38,-0.38H0.38V0.38H-0.38Z", "symbolSize": 256, "symbolStrokeWidth": 0, "symbolOpacity": 1, "labelOffset": 6, "rowPadding": 1.7}}}}
      ]
    },
    {
      "width": 186, "height": 157,
      "title": {"text": "C", "dx": -52, "dy": 23},
      "encoding": {
        "x": {"field": "t", "type": "quantitative", "scale": {"domain": [64.8, 288], "nice": false, "zero": false}, "axis": null},
        "y": {"field": "v", "type": "quantitative", "scale": {"domain": [-9.5, 226], "nice": false, "zero": false}, "axis": null}
      },
      "layer": [
        {"data": {"name": "traceCl"}, "mark": {"type": "line", "strokeWidth": 1.3},
         "encoding": {"stroke": {"field": "g", "type": "nominal", "scale": {"domain": ["0","12","17","22","28","35","DKO"], "range": ["#000000","#74aee6","#1f3864","#5e8f32","#f0913a","#8c8c8c","#e3211c"]}, "legend": null}}},
        {"data": {"values": [{"t": 169.2, "t2": 169.2, "v": 111.5, "v2": 61}, {"t": 169.2, "t2": 220.8, "v": 61, "v2": 61}]},
         "mark": {"type": "rule", "color": "black", "strokeWidth": 1},
         "encoding": {"x2": {"field": "t2"}, "y2": {"field": "v2"}}},
        {"data": {"values": [{"t": 176, "v": 75, "label": "50 uV"}, {"t": 174.8, "v": 44, "label": "50 ms"}]},
         "mark": {"type": "text", "align": "left", "baseline": "middle", "font": "Liberation Serif", "fontSize": 13, "color": "black"},
         "encoding": {"text": {"field": "label"}}},
        {"data": {"values": [{"t": 172.8, "v": 177.5, "label": "10 cd*s/m²"}]},
         "mark": {"type": "text", "align": "left", "baseline": "middle", "font": "Liberation Serif", "fontSize": 14, "color": "black"},
         "encoding": {"text": {"field": "label"}}}
      ]
    },
    {
      "width": 188, "height": 157,
      "encoding": {
        "x": {"field": "t", "type": "quantitative", "scale": {"domain": [78, 303.6], "nice": false, "zero": false}, "axis": null},
        "y": {"field": "v", "type": "quantitative", "scale": {"domain": [-17, 218.5], "nice": false, "zero": false}, "axis": null}
      },
      "layer": [
        {"data": {"name": "traceCr"}, "mark": {"type": "line", "strokeWidth": 1.3},
         "encoding": {"stroke": {"field": "g", "type": "nominal", "scale": {"domain": ["DKO","35","28","22","17","12","0"], "range": ["#e3211c","#8c8c8c","#f0913a","#5e8f32","#1f3864","#74aee6","#000000"]}, "legend": null}}},
        {"data": {"values": [{"t": 216.8, "t2": 216.8, "v": 116.5, "v2": 66.5}, {"t": 216.8, "t2": 268, "v": 66.5, "v2": 66.5}]},
         "mark": {"type": "rule", "color": "black", "strokeWidth": 1},
         "encoding": {"x2": {"field": "t2"}, "y2": {"field": "v2"}}},
        {"data": {"values": [{"t": 224, "v": 80, "label": "50 uV"}, {"t": 226, "v": 49, "label": "50 ms"}]},
         "mark": {"type": "text", "align": "left", "baseline": "middle", "font": "Liberation Serif", "fontSize": 13, "color": "black"},
         "encoding": {"text": {"field": "label"}}},
        {"data": {"values": [{"t": 186, "v": 169, "label": "100 cd*s/m²"}]},
         "mark": {"type": "text", "align": "left", "baseline": "middle", "font": "Liberation Serif", "fontSize": 14, "color": "black"},
         "encoding": {"text": {"field": "label"}}},
        {"data": {"name": "groups"},
         "mark": {"type": "point", "shape": "square", "filled": true, "opacity": 0},
         "encoding": {"x": {"value": 0}, "y": {"value": 0},
           "color": {"field": "g", "type": "nominal", "scale": {"domain": ["0","12","17","22","28","35","DKO"], "range": ["#000000","#5b9fc0","#1414e6","#3b7d23","#f28a2e","#9a9a9a","#d81e1e"]},
             "legend": {"orient": "right", "offset": -11, "padding": 15, "title": null, "symbolType": "M-1,-0.09H1V0.09H-1Z M-0.38,-0.38H0.38V0.38H-0.38Z", "symbolSize": 256, "symbolStrokeWidth": 0, "symbolOpacity": 1, "labelOffset": 6, "rowPadding": 1.7}}}}
      ]
    },
    {
      "width": 186, "height": 126,
      "title": {"text": "D", "dx": -49, "dy": -4},
      "encoding": {
        "x": {"field": "x", "type": "quantitative", "scale": {"domain": [-1, 5], "nice": false, "zero": false},
              "axis": {"values": [-1, 0, 1, 2, 3, 4, 5], "labelPadding": 5, "titlePadding": 6, "title": "Flash intensity log (cd*s/m²)"}}
      },
      "layer": [
        {"data": {"name": "fitD"}, "mark": {"type": "line", "strokeWidth": 1.3},
         "encoding": {
           "y": {"field": "y", "type": "quantitative", "scale": {"domain": [0, 226], "nice": false}, "axis": {"values": [0, 50, 100, 150, 200], "labelPadding": 3, "titlePadding": 10}, "title": "Rmax, cones (µV)"},
           "stroke": {"field": "g", "type": "nominal", "scale": {"domain": ["DKO","35","28","22","17","12","0"], "range": ["#d81e1e","#9a9a9a","#f28a2e","#3b7d23","#1414e6","#5b9fc0","#000000"]}, "legend": null}}},
        {"data": {"name": "ptsD"}, "mark": {"type": "rule", "strokeWidth": 1},
         "encoding": {"y": {"field": "lo", "type": "quantitative", "title": "Rmax, cones (µV)"}, "y2": {"field": "hi"}, "stroke": {"field": "g", "type": "nominal", "legend": null}}},
        {"data": {"name": "ptsD"}, "mark": {"type": "point", "shape": "M-1,0H1", "filled": false, "size": 40, "strokeWidth": 1, "opacity": 1},
         "encoding": {"y": {"field": "hi", "type": "quantitative", "title": "Rmax, cones (µV)"}, "stroke": {"field": "g", "type": "nominal", "legend": null}}},
        {"data": {"name": "ptsD"}, "mark": {"type": "point", "shape": "M-1,0H1", "filled": false, "size": 40, "strokeWidth": 1, "opacity": 1},
         "encoding": {"y": {"field": "lo", "type": "quantitative", "title": "Rmax, cones (µV)"}, "stroke": {"field": "g", "type": "nominal", "legend": null}}},
        {"data": {"name": "ptsD"}, "mark": {"type": "point", "shape": "square", "filled": true, "size": 40, "opacity": 1},
         "encoding": {
           "y": {"field": "y", "type": "quantitative", "title": "Rmax, cones (µV)"},
           "color": {"field": "g", "type": "nominal", "scale": {"domain": ["0","12","17","22","28","35","DKO"], "range": ["#000000","#5b9fc0","#1414e6","#3b7d23","#f28a2e","#9a9a9a","#d81e1e"]},
             "legend": {"orient": "right", "offset": -3, "padding": 2, "title": null, "symbolType": "M-1,-0.09H1V0.09H-1Z M-0.38,-0.38H0.38V0.38H-0.38Z", "symbolSize": 256, "symbolStrokeWidth": 0, "symbolOpacity": 1, "labelOffset": 6, "rowPadding": 0}}}}
      ]
    },
    {
      "width": 188, "height": 126,
      "title": {"text": "E", "dx": -53, "dy": -1},
      "encoding": {
        "x": {"field": "x", "type": "quantitative", "scale": {"domain": [-3, 40], "nice": false, "zero": false},
              "axis": {"values": [0, 10, 20, 30, 40], "labelPadding": 6, "titlePadding": 5, "title": "Days after tamoxifen"}}
      },
      "layer": [
        {"data": {"name": "fitE"}, "mark": {"type": "line", "strokeWidth": 1.3, "color": "black"},
         "encoding": {"y": {"field": "y", "type": "quantitative", "scale": {"domain": [0, 85], "nice": false}, "axis": {"values": [0, 25, 50, 75], "labelPadding": 3, "titlePadding": 10, "titleFontSize": 13}, "title": "b-wave time to peak (ms)"}}},
        {"data": {"name": "ptsE"}, "mark": {"type": "rule", "strokeWidth": 1, "color": "black"},
         "encoding": {"y": {"field": "y", "type": "quantitative", "title": "b-wave time to peak (ms)"}, "y2": {"field": "hi"}}},
        {"data": {"name": "ptsE"}, "mark": {"type": "point", "shape": "M-1,0H1", "filled": false, "size": 40, "strokeWidth": 1, "color": "black", "opacity": 1},
         "encoding": {"y": {"field": "hi", "type": "quantitative", "title": "b-wave time to peak (ms)"}}},
        {"data": {"name": "ptsE"}, "mark": {"type": "point", "shape": "square", "filled": true, "size": 42, "color": "black", "opacity": 1},
         "encoding": {"y": {"field": "y", "type": "quantitative", "title": "b-wave time to peak (ms)"}}}
      ]
    }
  ]
}
